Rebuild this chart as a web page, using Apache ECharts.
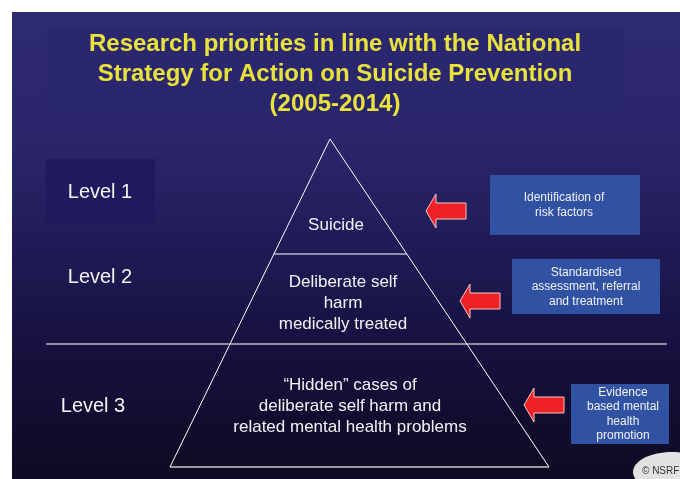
<!DOCTYPE html>
<html>
<head>
<meta charset="utf-8">
<script src="https://cdn.jsdelivr.net/npm/echarts@6/dist/echarts.min.js"></script>
<style>html,body{margin:0;padding:0;background:#fff}#c{width:680px;height:479px}</style>
</head>
<body>
<div id="c"></div>
<script>
// ---- content ----
const titleLines = ['Research priorities in line with the National', 'Strategy for Action on Suicide Prevention', '(2005-2014)'];
const levelLabels = ['Level 1', 'Level 2', 'Level 3'];
const pyramidTiers = ['Suicide', 'Deliberate self\nharm\nmedically treated', '\u201cHidden\u201d cases of\ndeliberate self harm and\nrelated mental health problems'];
const actionBoxes = ['Identification of\nrisk factors', 'Standardised\nassessment, referral\nand treatment', 'Evidence\nbased mental\nhealth\npromotion'];
const credit = '\u00a9 NSRF';

// ---- layout (diagram units = pixels of a hidden 680x479 axis) ----
const W = 680, H = 479;
const FONT = '"Liberation Sans", Arial, sans-serif';
const slide = [12, 12, 668, 467];
const titleBox = [47, 28, 576, 87];
const titlePos = [335, 44, 30];
const levelBox = [46, 159, 109, 64];
const levelPos = [[100, 192], [100, 277], [93, 406]];
const apex = [330, 139], baseL = [170, 467], baseR = [549, 467];
const tierLineY = 254;
const dividerY = 344, dividerX = [46, 667];
const tierPos = [[336, 225], [343, 303], [350, 406]];
const boxRects = [[490, 175, 150, 60], [512, 259, 148, 55], [571, 384, 98, 60]];
const boxTextPos = [[564, 205], [586, 287], [623, 414]];
const arrowTips = [[426, 211], [460, 301], [524, 405]];
const creditEllipse = [672, 472, 39, 20];

const chart = echarts.init(document.getElementById('c'), null, {renderer: 'canvas'});

function xAt(p, q, y) { return p[0] + (q[0] - p[0]) * (y - p[1]) / (q[1] - p[1]); }

function custom(name, items, z) {
  return {
    type: 'custom', name: name, coordinateSystem: 'cartesian2d', z: z, clip: false,
    silent: true, animation: false,
    data: items.map((it, i) => [i, 0]),
    renderItem: function (params, api) { return items[params.dataIndex](api); }
  };
}
function rectEl(r, style) {
  return function (api) {
    const a = api.coord([r[0], r[1]]), b = api.coord([r[0] + r[2], r[1] + r[3]]);
    return {type: 'rect', shape: {x: a[0], y: a[1], width: b[0] - a[0], height: b[1] - a[1]}, style: style};
  };
}
function polyEl(pts, style, closed) {
  return function (api) {
    return {type: closed ? 'polygon' : 'polyline', shape: {points: pts.map(p => api.coord(p))}, style: style};
  };
}
function textEl(txt, pos, size, color, weight, lh) {
  return function (api) {
    const c = api.coord(pos);
    return {type: 'text', style: {text: txt, x: c[0], y: c[1], fill: color, fontSize: size, fontFamily: FONT,
      fontWeight: weight || 'normal', lineHeight: lh || Math.round(size * 1.2), align: 'center', verticalAlign: 'middle'}};
  };
}
function arrowPts(t) {
  const x = t[0], y = t[1];
  return [[x, y], [x + 10, y - 17], [x + 10, y - 8], [x + 40, y - 8], [x + 40, y + 8], [x + 10, y + 8], [x + 10, y + 17]];
}

const bgGrad = new echarts.graphic.LinearGradient(0, 0, 0, 1, [
  {offset: 0, color: '#2e2a74'}, {offset: 0.3, color: '#2a2569'}, {offset: 0.5, color: '#201b56'},
  {offset: 0.72, color: '#16113e'}, {offset: 1, color: '#0f0a22'}
]);

const backItems = [
  rectEl([slide[0], slide[1], slide[2], slide[3]], {fill: bgGrad}),
  rectEl(titleBox, {fill: 'rgba(40,37,108,0.45)'}),
  rectEl(levelBox, {fill: '#1f1a5d'})
];
boxRects.forEach(r => backItems.push(rectEl(r, {fill: '#3152a3'})));

const lineItems = [
  polyEl([[dividerX[0], dividerY], [dividerX[1], dividerY]], {stroke: '#b4b4c6', lineWidth: 1.5, fill: null}, false),
  polyEl([baseL, apex, baseR], {stroke: '#ffffff', lineWidth: 1, fill: null}, false),
  polyEl([baseL, baseR], {stroke: '#c8c8d4', lineWidth: 1.5, fill: null}, false),
  polyEl([[xAt(apex, baseL, tierLineY), tierLineY], [xAt(apex, baseR, tierLineY), tierLineY]], {stroke: '#ffffff', lineWidth: 1.2, fill: null}, false)
];
arrowTips.forEach(t => lineItems.push(polyEl(arrowPts(t), {fill: '#ee2126', stroke: '#f3c8c8', lineWidth: 1}, true)));
lineItems.push(function (api) {
  const c = api.coord([creditEllipse[0], creditEllipse[1]]);
  return {type: 'ellipse', shape: {cx: c[0], cy: c[1], rx: creditEllipse[2], ry: creditEllipse[3]}, style: {fill: '#e2e2e2'}};
});

const textItems = [];
titleLines.forEach((t, i) => textItems.push(textEl(t, [titlePos[0], titlePos[1] + i * titlePos[2]], 24, '#e8e23c', 'bold')));
levelLabels.forEach((t, i) => textItems.push(textEl(t, levelPos[i], 20, '#f4f4f8')));
pyramidTiers.forEach((t, i) => textItems.push(textEl(t, tierPos[i], 17, '#f2f2f6', 'normal', 21)));
actionBoxes.forEach((t, i) => textItems.push(textEl(t, boxTextPos[i], 12, '#f0f2fa', 'normal', 14.5)));
textItems.push(function (api) {
  const c = api.coord([642, 471]);
  return {type: 'text', style: {text: credit, x: c[0], y: c[1], fill: '#333333', fontSize: 10, fontFamily: FONT, align: 'left', verticalAlign: 'middle'}};
});

chart.setOption({
  backgroundColor: '#ffffff',
  animation: false,
  grid: {left: 0, right: 0, top: 0, bottom: 0},
  xAxis: {type: 'value', min: 0, max: W, show: false},
  yAxis: {type: 'value', min: 0, max: H, inverse: true, show: false},
  series: [custom('back', backItems, 1), custom('lines', lineItems, 2), custom('texts', textItems, 3)]
});
</script>
</body>
</html>
